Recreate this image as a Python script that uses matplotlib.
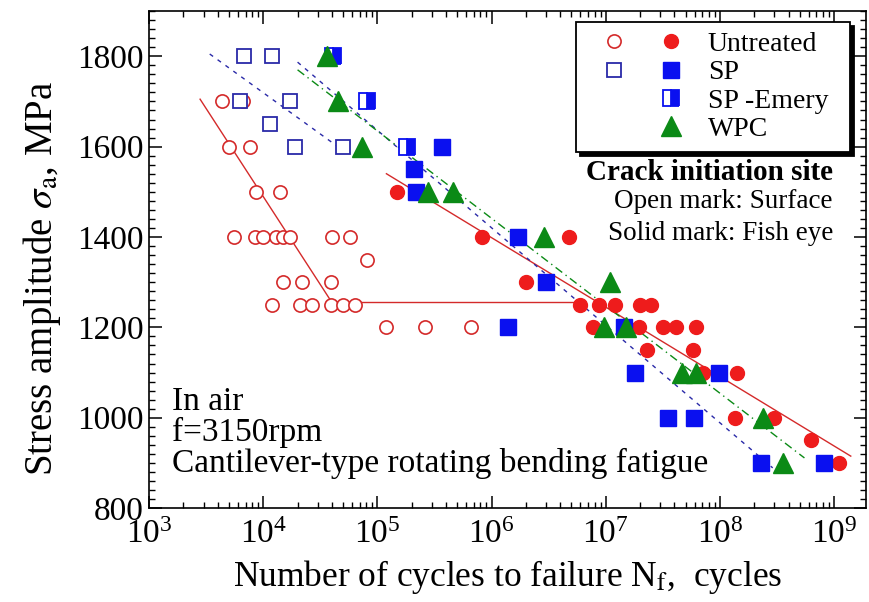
import matplotlib
matplotlib.use('Agg')
import matplotlib.pyplot as plt
from matplotlib.lines import Line2D
from matplotlib.legend_handler import HandlerTuple
from matplotlib.ticker import MultipleLocator, LogLocator, NullFormatter

plt.rcParams['font.family'] = ['Liberation Serif', 'DejaVu Serif']
plt.rcParams['mathtext.fontset'] = 'stix'

# S-N data: cycles to failure and stress amplitude (MPa)
untreated_surf_n = [4.4e3, 6.6e3, 5.0e3, 7.6e3, 8.7e3, 1.4e4,
                    5.5e3, 8.5e3, 1.0e4, 1.3e4, 1.5e4, 1.7e4, 4.0e4, 5.8e4,
                    8.1e4, 1.5e4, 2.2e4, 3.9e4,
                    1.2e4, 2.1e4, 2.7e4, 3.9e4, 5.0e4, 6.4e4,
                    1.2e5, 2.6e5, 6.6e5]
untreated_surf_s = [1700, 1700, 1600, 1600, 1500, 1500,
                    1400, 1400, 1400, 1400, 1400, 1400, 1400, 1400,
                    1350, 1300, 1300, 1300,
                    1250, 1250, 1250, 1250, 1250, 1250,
                    1200, 1200, 1200]

untreated_fish_n = [1.5e5, 8.3e5, 4.8e6, 2.0e6,
                    6.0e6, 8.7e6, 1.2e7, 2.0e7, 2.5e7,
                    7.8e6, 1.95e7, 3.2e7, 4.1e7, 6.2e7,
                    2.3e7, 5.8e7, 7.1e7, 1.4e8,
                    1.35e8, 3.0e8, 6.3e8, 1.1e9]
untreated_fish_s = [1500, 1400, 1400, 1300,
                    1250, 1250, 1250, 1250, 1250,
                    1200, 1200, 1200, 1200, 1200,
                    1150, 1150, 1100, 1100,
                    1000, 1000, 950, 900]

sp_surf_n = [6.8e3, 1.2e4, 6.3e3, 1.7e4, 1.15e4, 1.9e4, 5.0e4]
sp_surf_s = [1800, 1800, 1700, 1700, 1650, 1600, 1600]

sp_fish_n = [3.7e5, 2.1e5, 2.2e5, 1.7e6, 3.0e6, 1.4e6, 1.45e7,
             1.8e7, 9.8e7, 3.5e7, 5.9e7, 2.3e8, 8.1e8]
sp_fish_s = [1600, 1550, 1500, 1400, 1300, 1200, 1200,
             1100, 1100, 1000, 1000, 900, 900]

sp_emery_n = [4.1e4, 8.1e4, 1.8e5]
sp_emery_s = [1800, 1700, 1600]

wpc_n = [3.6e4, 4.5e4, 7.4e4, 2.8e5, 4.6e5, 2.9e6, 1.1e7,
         9.6e6, 1.5e7, 4.7e7, 6.2e7, 2.4e8, 3.6e8]
wpc_s = [1800, 1700, 1600, 1500, 1500, 1400, 1300,
         1200, 1200, 1100, 1100, 1000, 900]

# fitted S-N lines
untreated_surf_fit_n = [2.8e3, 4.0e4, 5.6e6]
untreated_surf_fit_s = [1705, 1255, 1255]
untreated_fish_fit_n = [1.2e5, 1.4e9]
untreated_fish_fit_s = [1540, 915]
sp_surf_fit_n = [3.4e3, 4.5e4]
sp_surf_fit_s = [1805, 1600]
sp_fish_fit_n = [2.0e4, 2.9e8]
sp_fish_fit_s = [1787, 889]
wpc_fit_n = [2.0e4, 5.5e8]
wpc_fit_s = [1770, 911]

red = '#ee1c1c'
red_open = '#d42a2a'
blue = '#0a10f0'
navy = '#2a2aa8'
green = '#0b8a16'

fig = plt.figure(figsize=(8.7, 6.02), dpi=100)
ax = fig.add_axes([0.1713, 0.156, 0.824, 0.8256])

# fit lines
ax.plot(untreated_surf_fit_n, untreated_surf_fit_s, '-', color=red_open, lw=1.0)
ax.plot(untreated_fish_fit_n, untreated_fish_fit_s, '-', color=red_open, lw=1.0)
ax.plot(sp_surf_fit_n, sp_surf_fit_s, '--', color=navy, lw=1.0, dashes=(3, 4))
ax.plot(sp_fish_fit_n, sp_fish_fit_s, '--', color=navy, lw=1.0, dashes=(3, 4))
ax.plot(wpc_fit_n, wpc_fit_s, '-.', color=green, lw=1.0, dashes=(6, 3, 1, 3))

# data points
p1, = ax.plot(untreated_surf_n, untreated_surf_s, 'o', ls='none', ms=9.5,
              mfc='white', mec=red_open, mew=1.2)
p2, = ax.plot(untreated_fish_n, untreated_fish_s, 'o', ls='none', ms=10,
              mfc=red, mec=red)
p3, = ax.plot(sp_surf_n, sp_surf_s, 's', ls='none', ms=10.5,
              mfc='white', mec=navy, mew=1.3)
p4, = ax.plot(sp_fish_n, sp_fish_s, 's', ls='none', ms=11,
              mfc=blue, mec=blue)
p5, = ax.plot(sp_emery_n, sp_emery_s, 's', ls='none', ms=11, fillstyle='right',
              mfc=blue, mfcalt='white', mec=blue, mew=1.3)
p6, = ax.plot(wpc_n, wpc_s, '^', ls='none', ms=15, mfc=green, mec=green)

ax.set_xscale('log')
ax.set_xlim(1e3, 1.9e9)
ax.set_ylim(800, 1900)
ax.yaxis.set_major_locator(MultipleLocator(200))
ax.yaxis.set_minor_locator(MultipleLocator(20))
ax.xaxis.set_major_locator(LogLocator(base=10, numticks=12))
ax.xaxis.set_minor_locator(LogLocator(base=10, subs=range(2, 10), numticks=12))
ax.xaxis.set_minor_formatter(NullFormatter())

ax.tick_params(which='both', direction='in', top=True, right=True, labelsize=24)
ax.tick_params(axis='x', pad=8)
ax.tick_params(axis='y', pad=4)
ax.tick_params(which='major', length=9, width=1.1)
ax.tick_params(which='minor', length=4.5, width=1.0)
for sp in ax.spines.values():
    sp.set_linewidth(1.2)

ax.set_xlabel(r'Number of cycles to failure N$_{\rm f}$,  cycles', fontsize=25.5, labelpad=6)
ax.set_ylabel(r'Stress amplitude $\sigma_{\rm a}$, MPa', fontsize=28)
ax.yaxis.set_label_coords(-0.12, 0.463)

blank = Line2D([], [], ls='none', marker='None')
leg = ax.legend([(p1, p2), (p3, p4), (blank, p5), (blank, p6)],
                ['Untreated', 'SP', 'SP -Emery', 'WPC'],
                handler_map={tuple: HandlerTuple(ndivide=None, pad=0)},
                loc='upper left', bbox_to_anchor=(0.5955, 0.70, 0.382, 0.278),
                mode='expand', borderaxespad=0.0,
                fontsize=20, numpoints=1, handlelength=4.1, handletextpad=0.3,
                borderpad=0.35, labelspacing=0.1, fancybox=False,
                framealpha=1, edgecolor='black',
                shadow={'ox': 3, 'oy': -3, 'color': 'black', 'alpha': 1})
leg.get_frame().set_linewidth(1.3)

ax.text(0.954, 0.676, 'Crack initiation site', transform=ax.transAxes,
        ha='right', va='center', fontsize=21, fontweight='bold')
ax.text(0.954, 0.616, 'Open mark: Surface', transform=ax.transAxes,
        ha='right', va='center', fontsize=19.5)
ax.text(0.954, 0.553, 'Solid mark: Fish eye', transform=ax.transAxes,
        ha='right', va='center', fontsize=19.5)

ax.text(0.032, 0.213, 'In air', transform=ax.transAxes,
        ha='left', va='center', fontsize=24)
ax.text(0.032, 0.153, 'f=3150rpm', transform=ax.transAxes,
        ha='left', va='center', fontsize=24)
ax.text(0.032, 0.0905, 'Cantilever-type rotating bending fatigue',
        transform=ax.transAxes, ha='left', va='center', fontsize=24)

fig.savefig('out.png', dpi=100)
